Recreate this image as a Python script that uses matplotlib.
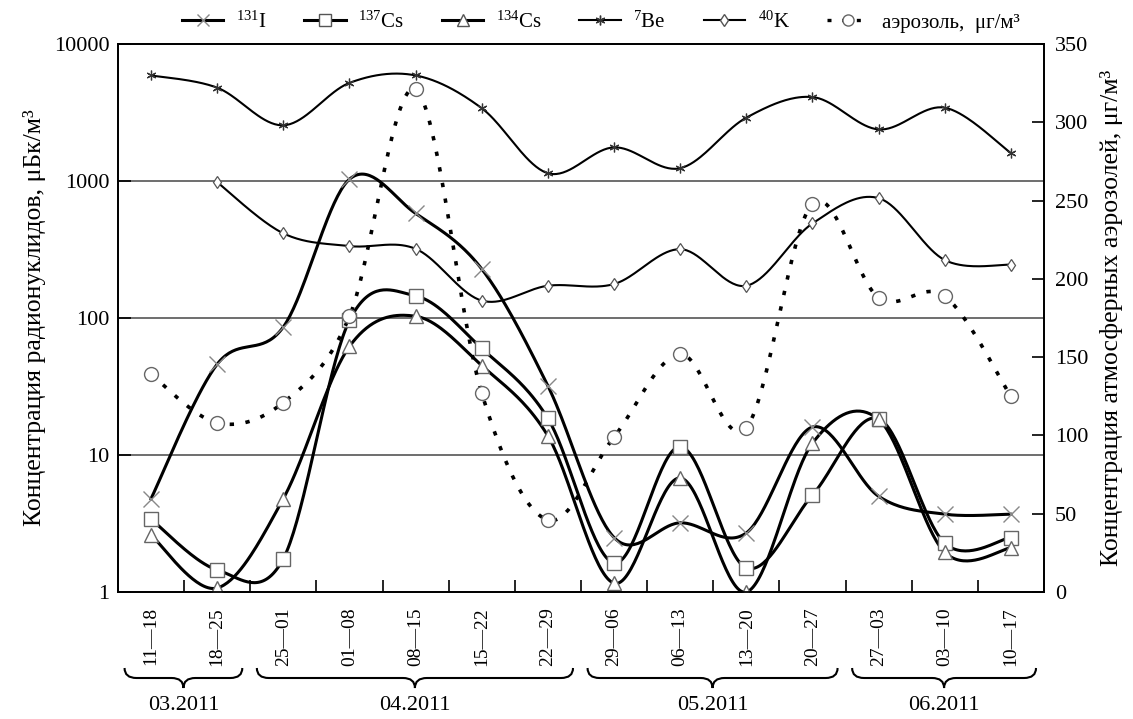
import numpy as np
import matplotlib
matplotlib.use("Agg")
import matplotlib.pyplot as plt
from matplotlib.lines import Line2D
from matplotlib.path import Path
from matplotlib.patches import PathPatch
import matplotlib.transforms as mtransforms

plt.rcParams['font.family'] = ['Liberation Serif', 'DejaVu Serif']
plt.rcParams['mathtext.fontset'] = 'custom'
plt.rcParams['mathtext.rm'] = 'Liberation Serif'
plt.rcParams['mathtext.it'] = 'Liberation Serif:italic'

# ---------------- data ----------------
weeks = ["11—18", "18—25", "25—01", "01—08", "08—15", "15—22", "22—29",
         "29—06", "06—13", "13—20", "20—27", "27—03", "03—10", "10—17"]
months = ["03.2011", "04.2011", "05.2011", "06.2011"]
month_first = [0, 2, 7, 11]
month_last = [1, 6, 10, 13]

i131 = [4.8, 46, 86, 1030, 580, 228, 32, 2.5, 3.2, 2.7, 16, 5.0, 3.7, 3.7]
cs137 = [3.4, 1.45, 1.75, 96, 145, 60, 18.5, 1.63, 11.5, 1.5, 5.1, 18.4, 2.27, 2.5]
cs134 = [2.6, 1.07, 4.8, 62, 103, 45, 13.8, 1.16, 6.8, 1.0, 12.2, 18.2, 1.95, 2.1]
be7 = [5900, 4800, 2550, 5200, 5900, 3400, 1140, 1760, 1240, 2900, 4100, 2380, 3430, 1600]
k40 = [np.nan, 980, 415, 335, 320, 134, 172, 177, 318, 172, 490, 750, 265, 245]
aerosol = [139, 108, 121, 176, 321, 127, 46, 99, 152, 105, 248, 188, 189, 125]


def smooth(xs, ys, n=40):
    """Excel-like smoothed curve (cubic Bezier / Catmull-Rom, tension 1/6)."""
    xs = np.asarray(xs, float)
    ys = np.asarray(ys, float)
    P = np.column_stack([xs, ys])
    out = []
    t = np.linspace(0, 1, n)[:, None]
    for i in range(len(P) - 1):
        p0 = P[i - 1] if i > 0 else P[i]
        p1 = P[i]
        p2 = P[i + 1]
        p3 = P[i + 2] if i + 2 < len(P) else P[i + 1]
        c1 = p1 + (p2 - p0) / 6.0
        c2 = p2 - (p3 - p1) / 6.0
        seg = ((1 - t) ** 3) * p1 + 3 * ((1 - t) ** 2) * t * c1 + 3 * (1 - t) * t ** 2 * c2 + t ** 3 * p2
        out.append(seg if i == 0 else seg[1:])
    out = np.vstack(out)
    return out[:, 0], out[:, 1]


fig = plt.figure(figsize=(11.33, 7.19), dpi=100)
ax = fig.add_axes([0.1041, 0.1766, 0.8173, 0.7622])
ax2 = ax.twinx()

x = np.arange(len(weeks))

def plot_log(ax, vals, marker, ms, lw, mec='#777777', mew=1.0):
    v = np.asarray(vals, float)
    m = ~np.isnan(v)
    sx, sy = smooth(x[m], np.log10(v[m]))
    ax.plot(sx, 10 ** sy, color='black', lw=lw, zorder=3)
    ax.plot(x[m], v[m], ls='none', marker=marker, ms=ms, mfc='white', mec=mec, mew=mew, zorder=4)

plot_log(ax, be7, (6, 2, 0), 7, 1.5, mec='#333333', mew=0.9)
plot_log(ax, k40, 'd', 6, 1.5, mec='#555555', mew=0.9)
plot_log(ax, i131, 'x', 12, 2.2, mec='#888888', mew=1.0)
plot_log(ax, cs137, 's', 10, 2.2, mec='#666666', mew=1.0)
plot_log(ax, cs134, '^', 10, 2.2, mec='#666666', mew=1.0)

sx, sy = smooth(x, aerosol)
ax2.plot(sx, sy, color='black', lw=2.6, ls=(0, (1.2, 3.2)), zorder=3)
ax2.plot(x, aerosol, ls='none', marker='o', ms=10, mfc='white', mec='#666666', mew=1.0, zorder=4)

ax.set_yscale('log')
ax.set_ylim(1, 10000)
ax.set_xlim(-0.5, len(weeks) - 0.5)
ax2.set_ylim(0, 350)
ax2.set_yticks(np.arange(0, 351, 50))

ax.set_yticks([1, 10, 100, 1000, 10000])
ax.set_yticklabels(['1', '10', '100', '1000', '10000'])
ax.yaxis.set_minor_locator(matplotlib.ticker.NullLocator())
for yv in [10, 100, 1000]:
    ax.axhline(yv, color='#555555', lw=1.2, zorder=1)

ax.set_xticks(x)
ax.set_xticklabels(weeks, rotation=90, fontsize=14)
ax.tick_params(axis='x', which='major', length=0, pad=11)
ax.set_xticks(np.arange(-0.5, len(weeks)), minor=True)
ax.tick_params(axis='x', which='minor', direction='in', length=9, width=1.2)
ax.tick_params(axis='y', direction='in', length=9, width=1.2, labelsize=16, pad=6)
ax2.tick_params(axis='y', direction='in', length=9, width=1.2, labelsize=16, pad=8)

for a in (ax, ax2):
    for s in a.spines.values():
        s.set_linewidth(1.3)

ax.set_ylabel('Концентрация радионуклидов, μБк/м³', fontsize=18.5, labelpad=6)
ax2.set_ylabel('Концентрация атмосферных аэрозолей, μг/м³', fontsize=18.5, labelpad=8)

# month braces
trans = mtransforms.blended_transform_factory(ax.transData, fig.transFigure)
y_top = 1 - 668 / 719
y_mid = 1 - 678 / 719
y_tip = 1 - 688 / 719
for name, f, l in zip(months, month_first, month_last):
    x0 = f - 0.4
    x1 = l + 0.38
    xm = (x0 + x1) / 2
    r = 0.18
    verts = [(x0, y_top), (x0, y_mid), (x0 + r, y_mid),
             (xm - r, y_mid), (xm, y_mid), (xm, y_tip),
             (xm, y_mid), (xm + r, y_mid),
             (x1 - r, y_mid), (x1, y_mid), (x1, y_top)]
    codes = [Path.MOVETO, Path.CURVE3, Path.CURVE3,
             Path.LINETO, Path.CURVE3, Path.CURVE3,
             Path.CURVE3, Path.CURVE3,
             Path.LINETO, Path.CURVE3, Path.CURVE3]
    fig.add_artist(PathPatch(Path(verts, codes), transform=trans, fill=False,
                             lw=1.5, edgecolor='black', clip_on=False))
    fig.text(xm, 1 - 705 / 719, name, transform=trans, ha='center', va='center', fontsize=16)

# legend
handles = [
    Line2D([], [], color='black', lw=2.2, marker='x', ms=9, mec='#888888', mfc='white'),
    Line2D([], [], color='black', lw=2.2, marker='s', ms=8, mec='#555555', mfc='white'),
    Line2D([], [], color='black', lw=2.2, marker='^', ms=8, mec='#555555', mfc='white'),
    Line2D([], [], color='black', lw=1.5, marker=(6, 2, 0), ms=7, mec='#333333', mfc='white'),
    Line2D([], [], color='black', lw=1.5, marker='d', ms=6, mec='#555555', mfc='white'),
    Line2D([], [], color='black', lw=2.4, ls=(0, (1.2, 3.2)), marker='o', ms=8, mec='#666666', mfc='white'),
]
labels = [r'$^{131}$I', r'$^{137}$Cs', r'$^{134}$Cs', r'$^{7}$Be', r'$^{40}$K', 'аэрозоль,  μг/м³']
fig.legend(handles, labels, loc='upper center', bbox_to_anchor=(0.53, 1.01), ncol=6,
           frameon=False, fontsize=15, handlelength=2.0, columnspacing=1.8, handletextpad=0.6)

fig.savefig('out.png', dpi=100, facecolor='white')
